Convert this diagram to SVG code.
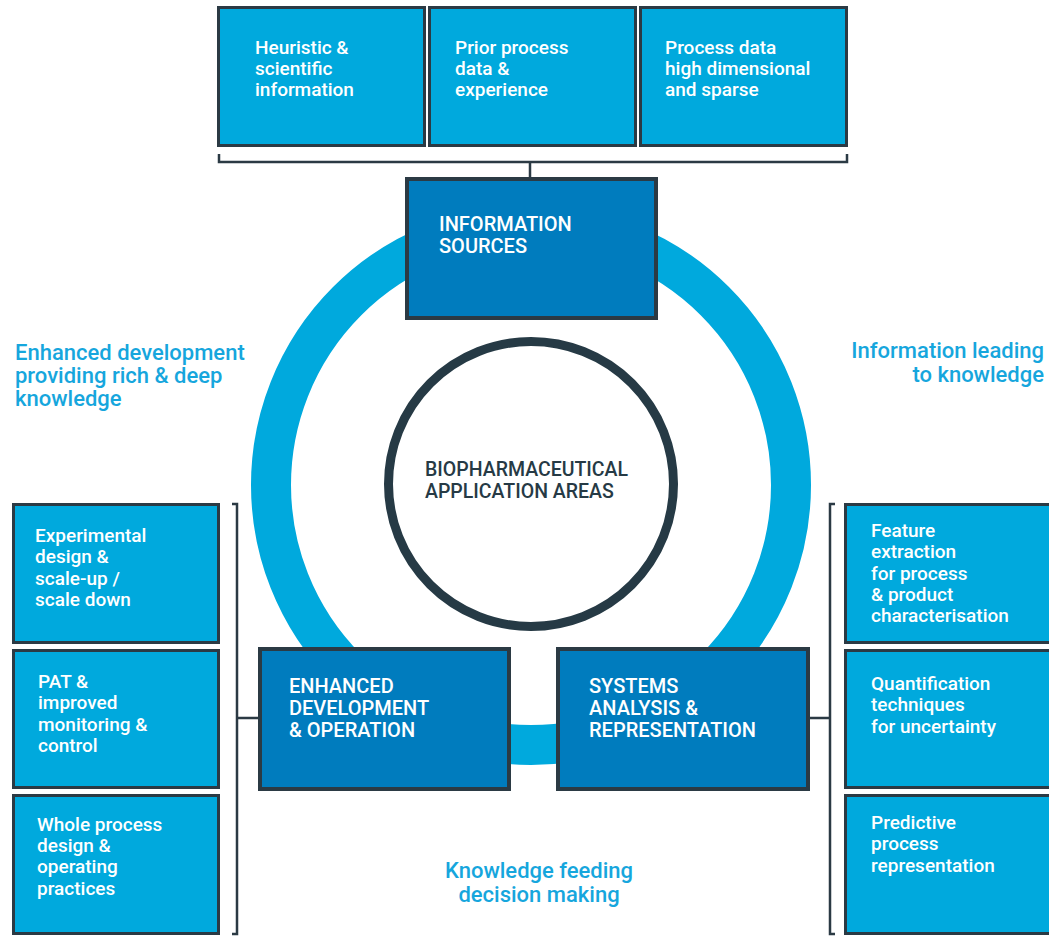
<svg xmlns="http://www.w3.org/2000/svg" width="1049" height="939" viewBox="0 0 1049 939">
<style>
.lb{fill:#00a9dd;stroke:#2b3a44;stroke-width:3}
.db{fill:#007cbe;stroke:#2b3a44;stroke-width:4}
.t{font-family:Roboto,"Liberation Sans",sans-serif;font-size:19px;font-weight:500;fill:#ffffff}
.h{font-family:Roboto,"Liberation Sans",sans-serif;font-size:20px;font-weight:500;fill:#ffffff}
.c{font-family:Roboto,"Liberation Sans",sans-serif;font-size:19.5px;font-weight:500;fill:#263a45}
.lab{font-family:Roboto,"Liberation Sans",sans-serif;font-size:22px;font-weight:500;fill:#16a6dd}
.ln{fill:none;stroke:#2b3a44;stroke-width:2.5}
</style>
<rect width="1049" height="939" fill="#ffffff"/>
<g id="ring">
<circle cx="531" cy="485" r="260" fill="none" stroke="#00a9dd" stroke-width="40"/>
</g>
<g id="center">
<circle cx="531" cy="484" r="142.5" fill="#ffffff" stroke="#263a45" stroke-width="9"/>
<text class="c"><tspan x="425" y="476">BIOPHARMACEUTICAL</tspan><tspan x="425" y="498">APPLICATION AREAS</tspan></text>
</g>
<g id="connectors">
<path class="ln" d="M219,154 V162 H847 V154 M530,162 V178"/>
<path class="ln" d="M232,504 H237 V934 H232 M237,718 H260"/>
<path class="ln" d="M835,504 H830 V934 H835 M830,718 H808"/>
</g>
<g id="src1"><rect class="lb" x="218.5" y="7.5" width="206" height="138"/>
<text class="t"><tspan x="255" y="54">Heuristic &amp;</tspan><tspan x="255" y="75">scientific</tspan><tspan x="255" y="96">information</tspan></text></g>
<g id="src2"><rect class="lb" x="429.5" y="7.5" width="206" height="138"/>
<text class="t"><tspan x="455" y="54">Prior process</tspan><tspan x="455" y="75">data &amp;</tspan><tspan x="455" y="96">experience</tspan></text></g>
<g id="src3"><rect class="lb" x="640.5" y="7.5" width="206" height="138"/>
<text class="t"><tspan x="665" y="54">Process data</tspan><tspan x="665" y="75">high dimensional</tspan><tspan x="665" y="96">and sparse</tspan></text></g>
<g id="info"><rect class="db" x="407" y="179" width="249" height="139"/>
<text class="h"><tspan x="439" y="231">INFORMATION</tspan><tspan x="439" y="253">SOURCES</tspan></text></g>
<g id="enh"><rect class="db" x="260" y="649" width="249" height="140"/>
<text class="h"><tspan x="289" y="693">ENHANCED</tspan><tspan x="289" y="715">DEVELOPMENT</tspan><tspan x="289" y="737">&amp; OPERATION</tspan></text></g>
<g id="sys"><rect class="db" x="558" y="649" width="250" height="140"/>
<text class="h"><tspan x="589" y="693">SYSTEMS</tspan><tspan x="589" y="715">ANALYSIS &amp;</tspan><tspan x="589" y="737">REPRESENTATION</tspan></text></g>
<g id="l1"><rect class="lb" x="13.5" y="504.5" width="205" height="138"/>
<text class="t"><tspan x="35" y="542">Experimental</tspan><tspan x="35" y="563">design &amp;</tspan><tspan x="35" y="585">scale-up /</tspan><tspan x="35" y="606">scale down</tspan></text></g>
<g id="l2"><rect class="lb" x="13.5" y="650.5" width="205" height="137"/>
<text class="t"><tspan x="38" y="688">PAT &amp;</tspan><tspan x="38" y="709">improved</tspan><tspan x="38" y="731">monitoring &amp;</tspan><tspan x="38" y="752">control</tspan></text></g>
<g id="l3"><rect class="lb" x="13.5" y="795.5" width="205" height="138"/>
<text class="t"><tspan x="37" y="831">Whole process</tspan><tspan x="37" y="852">design &amp;</tspan><tspan x="37" y="873">operating</tspan><tspan x="37" y="895">practices</tspan></text></g>
<g id="r1"><rect class="lb" x="845.5" y="504.5" width="206" height="138"/>
<text class="t"><tspan x="871" y="537">Feature</tspan><tspan x="871" y="558">extraction</tspan><tspan x="871" y="580">for process</tspan><tspan x="871" y="601">&amp; product</tspan><tspan x="871" y="622">characterisation</tspan></text></g>
<g id="r2"><rect class="lb" x="845.5" y="650.5" width="206" height="137"/>
<text class="t"><tspan x="871" y="690">Quantification</tspan><tspan x="871" y="711">techniques</tspan><tspan x="871" y="733">for uncertainty</tspan></text></g>
<g id="r3"><rect class="lb" x="845.5" y="795.5" width="206" height="138"/>
<text class="t"><tspan x="871" y="829">Predictive</tspan><tspan x="871" y="850">process</tspan><tspan x="871" y="872">representation</tspan></text></g>
<g id="labels">
<text class="lab"><tspan x="15" y="360">Enhanced development</tspan><tspan x="15" y="383">providing rich &amp; deep</tspan><tspan x="15" y="406">knowledge</tspan></text>
<text class="lab" text-anchor="end"><tspan x="1044" y="358">Information leading</tspan><tspan x="1044" y="382">to knowledge</tspan></text>
<text class="lab" text-anchor="middle"><tspan x="539" y="878">Knowledge feeding</tspan><tspan x="539" y="902">decision making</tspan></text>
</g>
</svg>
